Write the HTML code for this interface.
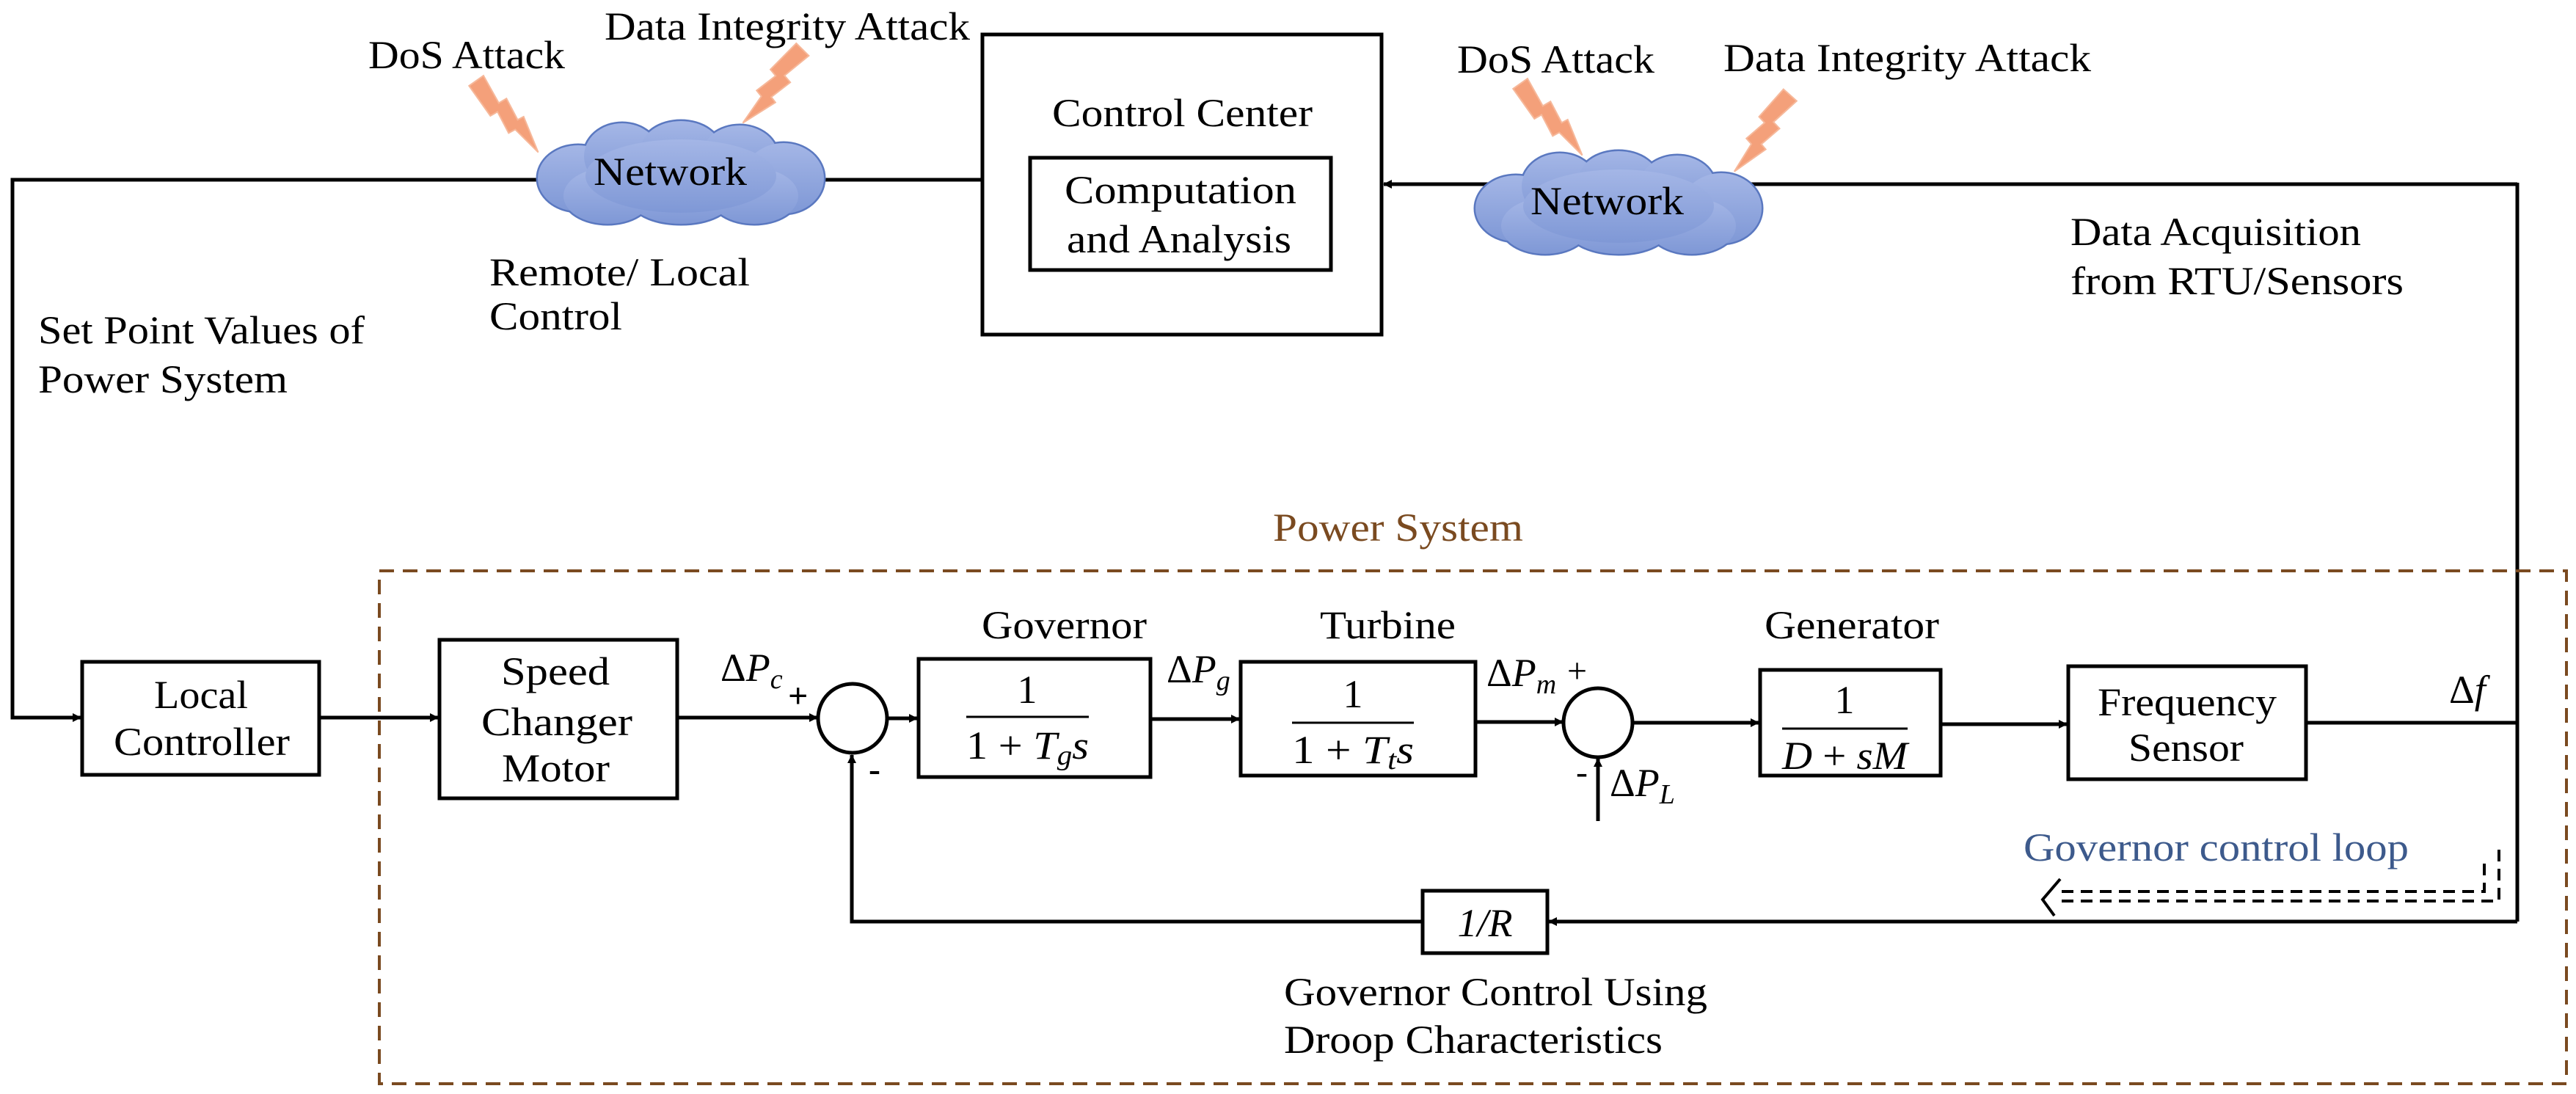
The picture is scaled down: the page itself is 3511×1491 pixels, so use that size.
<!DOCTYPE html>
<html><head><meta charset="utf-8"><style>html,body{margin:0;padding:0;background:#fff}svg{display:block}text{font-family:"Liberation Serif",serif;fill:#000}</style></head><body>
<svg width="3511" height="1491" viewBox="0 0 3511 1491" xmlns="http://www.w3.org/2000/svg">
<defs>
<marker id="ar" markerWidth="12" markerHeight="12" refX="11" refY="6" orient="auto" markerUnits="userSpaceOnUse" viewBox="0 0 12 12"><path d="M0,0 L12,6 L0,12 z" fill="#000"/></marker>
<linearGradient id="cg" x1="0" y1="0" x2="0" y2="1"><stop offset="0" stop-color="#a4b6e6"/><stop offset="1" stop-color="#7f98d6"/></linearGradient>
<g id="cloud">
<g fill="none" stroke="#5a78c0" stroke-width="5">
<ellipse cx="60" cy="78" rx="55" ry="45"/><ellipse cx="120" cy="48" rx="52" ry="45"/><ellipse cx="200" cy="40" rx="55" ry="40"/><ellipse cx="280" cy="48" rx="52" ry="42"/><ellipse cx="340" cy="78" rx="55" ry="48"/><ellipse cx="300" cy="102" rx="60" ry="38"/><ellipse cx="200" cy="105" rx="70" ry="35"/><ellipse cx="100" cy="102" rx="60" ry="38"/></g>
<g fill="url(#cg)">
<ellipse cx="60" cy="78" rx="55" ry="45"/><ellipse cx="120" cy="48" rx="52" ry="45"/><ellipse cx="200" cy="40" rx="55" ry="40"/><ellipse cx="280" cy="48" rx="52" ry="42"/><ellipse cx="340" cy="78" rx="55" ry="48"/><ellipse cx="300" cy="102" rx="60" ry="38"/><ellipse cx="200" cy="105" rx="70" ry="35"/><ellipse cx="100" cy="102" rx="60" ry="38"/><ellipse cx="200" cy="75" rx="130" ry="50"/></g>
</g>
<path id="bolt" d="M-14,0 L10,2 L2,44 L14,46 L7,78 L16,80 L0,130 L-4,86 L-14,84 L-7,52 L-18,50 Z" fill="#f4a07a" stroke="#f6b89a" stroke-width="2"/>
</defs>

<use href="#bolt" transform="translate(650,108) rotate(-40)"/>
<use href="#bolt" transform="translate(1096,68) rotate(40)"/>
<use href="#bolt" transform="translate(2073,112) rotate(-40)"/>
<use href="#bolt" transform="translate(2442,130) rotate(37)"/>

<g stroke="#000" stroke-width="5" fill="none">
<polyline points="1339,245 17,245 17,978 110,978" marker-end="url(#ar)"/>
<rect x="1339" y="47" width="544" height="409"/>
<rect x="1404" y="215" width="410" height="153"/>
<line x1="3431" y1="251" x2="1886" y2="251" marker-end="url(#ar)"/>
<line x1="3431" y1="249" x2="3431" y2="1256"/>
<rect x="112" y="902" width="323" height="154"/>
<line x1="435" y1="978" x2="597" y2="978" marker-end="url(#ar)"/>
<rect x="599" y="872" width="324" height="216"/>
<line x1="923" y1="978" x2="1114" y2="978" marker-end="url(#ar)"/>
<circle cx="1162" cy="979" r="47"/>
<line x1="1209" y1="979" x2="1250" y2="979" marker-end="url(#ar)"/>
<rect x="1252" y="898" width="316" height="161"/>
<line x1="1568" y1="980" x2="1689" y2="980" marker-end="url(#ar)"/>
<rect x="1691" y="902" width="320" height="155"/>
<line x1="2011" y1="984" x2="2130" y2="984" marker-end="url(#ar)"/>
<circle cx="2178" cy="985" r="47"/>
<line x1="2178" y1="1119" x2="2178" y2="1034" marker-end="url(#ar)"/>
<line x1="2225" y1="985" x2="2397" y2="985" marker-end="url(#ar)"/>
<rect x="2399" y="913" width="246" height="144"/>
<line x1="2645" y1="987" x2="2817" y2="987" marker-end="url(#ar)"/>
<rect x="2819" y="908" width="324" height="154"/>
<line x1="3143" y1="985" x2="3431" y2="985"/>
<line x1="3431" y1="1256" x2="2111" y2="1256" marker-end="url(#ar)"/>
<rect x="1939" y="1214" width="170" height="85"/>
<polyline points="1939,1256 1161,1256 1161,1029" marker-end="url(#ar)"/>
</g>
<g stroke="#000" stroke-width="3">
<line x1="1317" y1="977" x2="1484" y2="977"/>
<line x1="1761" y1="985" x2="1927" y2="985"/>
<line x1="2429" y1="993" x2="2600" y2="993"/>
</g>
<rect x="517" y="778" width="2981" height="699" fill="none" stroke="#7a4a20" stroke-width="4" stroke-dasharray="20,12"/>
<g fill="none" stroke="#000" stroke-width="4" stroke-dasharray="16,10">
<polyline points="3406,1158 3406,1228 2800,1228"/>
<polyline points="3386,1177 3386,1215 2808,1215"/>
</g>
<polyline points="2808,1198 2784,1226 2800,1248" fill="none" stroke="#000" stroke-width="4"/>

<use href="#cloud" transform="translate(728,165)"/>
<use href="#cloud" transform="translate(2006,206)"/>

<g font-size="54" lengthAdjust="spacingAndGlyphs">
<text x="502" y="93" textLength="268" lengthAdjust="spacingAndGlyphs">DoS Attack</text>
<text x="824" y="54" textLength="498" lengthAdjust="spacingAndGlyphs">Data Integrity Attack</text>
<text x="809" y="252" textLength="209" lengthAdjust="spacingAndGlyphs">Network</text>
<text x="1434" y="172" textLength="355" lengthAdjust="spacingAndGlyphs">Control Center</text>
<text x="1451" y="277" textLength="316" lengthAdjust="spacingAndGlyphs">Computation</text>
<text x="1454" y="344" textLength="306" lengthAdjust="spacingAndGlyphs">and Analysis</text>
<text x="667" y="389" textLength="355" lengthAdjust="spacingAndGlyphs">Remote/ Local</text>
<text x="667" y="449" textLength="181" lengthAdjust="spacingAndGlyphs">Control</text>
<text x="52" y="468" textLength="445" lengthAdjust="spacingAndGlyphs">Set Point Values of</text>
<text x="52" y="535" textLength="340" lengthAdjust="spacingAndGlyphs">Power System</text>
<text x="1986" y="99" textLength="269" lengthAdjust="spacingAndGlyphs">DoS Attack</text>
<text x="2349" y="97" textLength="501" lengthAdjust="spacingAndGlyphs">Data Integrity Attack</text>
<text x="2086" y="292" textLength="209" lengthAdjust="spacingAndGlyphs">Network</text>
<text x="2822" y="334" textLength="396" lengthAdjust="spacingAndGlyphs">Data Acquisition</text>
<text x="2822" y="401" textLength="454" lengthAdjust="spacingAndGlyphs">from RTU/Sensors</text>
<text x="1735" y="737" textLength="341" lengthAdjust="spacingAndGlyphs" style="fill:#7a4a20">Power System</text>
<text x="210" y="965" textLength="128" lengthAdjust="spacingAndGlyphs">Local</text>
<text x="155" y="1029" textLength="240" lengthAdjust="spacingAndGlyphs">Controller</text>
<text x="683" y="933" textLength="148" lengthAdjust="spacingAndGlyphs">Speed</text>
<text x="656" y="1002" textLength="206" lengthAdjust="spacingAndGlyphs">Changer</text>
<text x="684" y="1065" textLength="147" lengthAdjust="spacingAndGlyphs">Motor</text>
<text x="1338" y="870" textLength="225" lengthAdjust="spacingAndGlyphs">Governor</text>
<text x="1799" y="870" textLength="185" lengthAdjust="spacingAndGlyphs">Turbine</text>
<text x="2405" y="870" textLength="238" lengthAdjust="spacingAndGlyphs">Generator</text>
<text x="2859" y="975" textLength="244" lengthAdjust="spacingAndGlyphs">Frequency</text>
<text x="2901" y="1037" textLength="157" lengthAdjust="spacingAndGlyphs">Sensor</text>
<text x="1750" y="1370" textLength="577" lengthAdjust="spacingAndGlyphs">Governor Control Using</text>
<text x="1750" y="1435" textLength="516" lengthAdjust="spacingAndGlyphs">Droop Characteristics</text>
<text x="2758" y="1173" textLength="525" lengthAdjust="spacingAndGlyphs" style="fill:#3d5a8c">Governor control loop</text>
</g>
<g font-size="54">
<text x="982" y="928">Δ<tspan font-style="italic">P</tspan><tspan font-style="italic" font-size="38" dy="10">c</tspan></text>
<text x="1590" y="930">Δ<tspan font-style="italic">P</tspan><tspan font-style="italic" font-size="38" dy="10">g</tspan></text>
<text x="2026" y="935">Δ<tspan font-style="italic">P</tspan><tspan font-style="italic" font-size="38" dy="10">m</tspan></text>
<text x="2194" y="1085">Δ<tspan font-style="italic">P</tspan><tspan font-style="italic" font-size="38" dy="10">L</tspan></text>
<text x="3338" y="958">Δ<tspan font-style="italic">f</tspan></text>
<text x="1400" y="958" text-anchor="middle">1</text>
<text x="1317" y="1034" textLength="167" lengthAdjust="spacingAndGlyphs">1 + <tspan font-style="italic">T</tspan><tspan font-style="italic" font-size="38" dy="8">g</tspan><tspan font-style="italic" dy="-8">s</tspan></text>
<text x="1844" y="964" text-anchor="middle">1</text>
<text x="1761" y="1040" textLength="166" lengthAdjust="spacingAndGlyphs">1 + <tspan font-style="italic">T</tspan><tspan font-style="italic" font-size="38" dy="8">t</tspan><tspan font-style="italic" dy="-8">s</tspan></text>
<text x="2514" y="972" text-anchor="middle">1</text>
<text x="2429" y="1048" textLength="171" lengthAdjust="spacingAndGlyphs"><tspan font-style="italic">D</tspan> + <tspan font-style="italic">sM</tspan></text>
<text x="2024" y="1276" text-anchor="middle" font-style="italic">1/R</text>
</g>
<g font-size="48" font-weight="bold">
<text x="1074" y="964">+</text>
<text x="1184" y="1064">-</text>
<text x="2136" y="930" font-weight="normal">+</text>
<text x="2148" y="1068" font-weight="normal">-</text>
</g>
</svg>
</body></html>
